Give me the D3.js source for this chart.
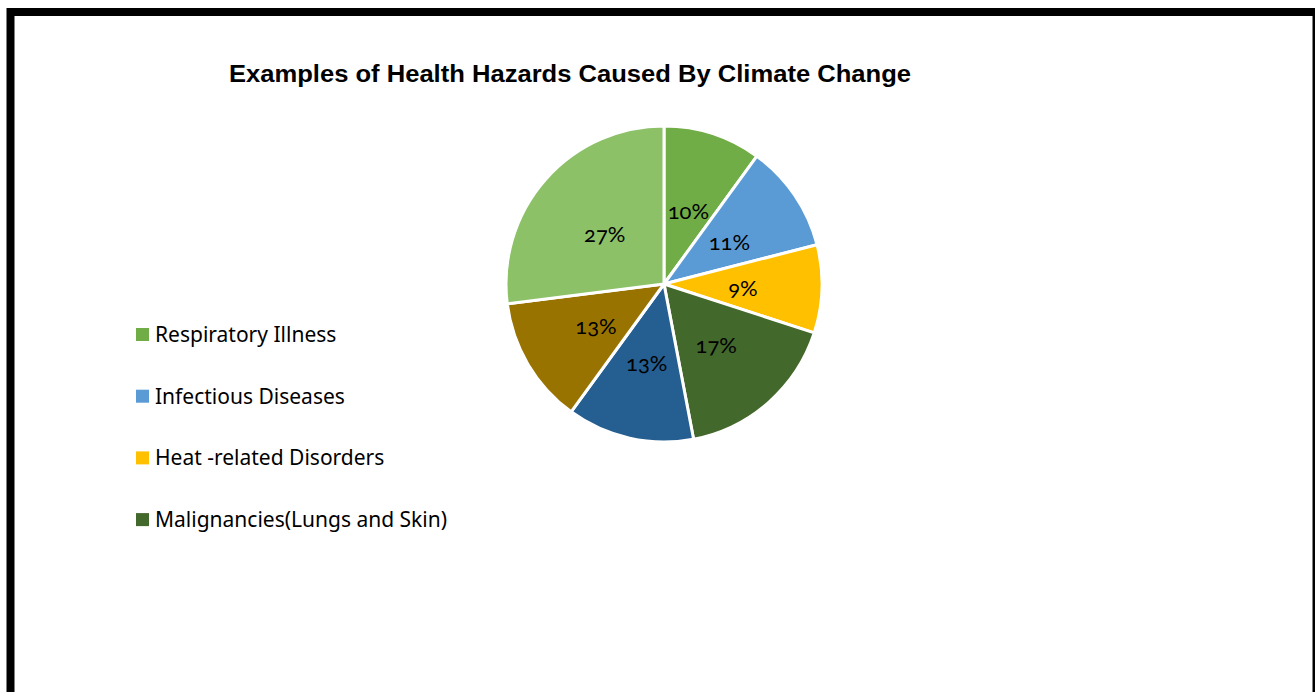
<!DOCTYPE html>
<html>
<head>
<meta charset="utf-8">
<script src="https://cdn.jsdelivr.net/npm/d3@7"></script>
<style>
  html, body { margin: 0; padding: 0; background: #fff; }
  svg { display: block; }
</style>
</head>
<body>
<div class="chart"></div>
<script>
// data
var labels = ["Respiratory Illness", "Infectious Diseases", "Heat -related Disorders",
              "Malignancies(Lungs and Skin)", "Series 5", "Series 6", "Series 7"];
var values = [10, 11, 9, 17, 13, 13, 27];
var colors = ["#70AD47", "#5B9BD5", "#FFC000", "#43682B", "#255E91", "#997300", "#8CC168"];
var legendCount = 4; // only the first four made it into the legend

var W = 1315, H = 692;
var svg = d3.select(".chart").append("svg")
    .attr("width", W)
    .attr("height", H);

// frame
svg.append("rect")
    .attr("x", 10.5).attr("y", 12)
    .attr("width", 1306).attr("height", 700)
    .attr("fill", "none")
    .attr("stroke", "#000")
    .attr("stroke-width", 8);

svg.append("text")
    .attr("x", 570)
    .attr("y", 82)
    .attr("text-anchor", "middle")
    .attr("font-family", "Liberation Sans, Arial, sans-serif")
    .attr("font-weight", 700)
    .attr("font-size", 23)
    .attr("textLength", 682)
    .attr("lengthAdjust", "spacingAndGlyphs")
    .text("Examples of Health Hazards Caused By Climate Change");

var cx = 664, cy = 284, r = 158;
var pie = d3.pie().sort(null).value(function(d) { return d; });
var arc = d3.arc().innerRadius(0).outerRadius(r);
var arcs = pie(values);

var g = svg.append("g").attr("transform", "translate(" + cx + "," + cy + ")");
g.selectAll("path.slice")
    .data(arcs)
  .enter().append("path")
    .attr("class", "slice")
    .attr("d", arc)
    .attr("fill", function(d, i) { return colors[i]; })
    .attr("stroke", "#fff")
    .attr("stroke-width", 3)
    .attr("stroke-linejoin", "round");

g.selectAll("text.lbl")
    .data(arcs)
  .enter().append("text")
    .attr("class", "lbl")
    .attr("transform", function(d) { return "translate(" + arc.centroid(d) + ")"; })
    .attr("text-anchor", "middle")
    .attr("dy", "0.45em")
    .attr("font-family", "Lato, Open Sans, sans-serif")
    .attr("font-size", 22)
    .style("font-variant-numeric", "oldstyle-nums")
    .attr("fill", "#000")
    .text(function(d) { return d.value + "%"; });

// legend
var leg = svg.append("g").attr("transform", "translate(136,328)");
var item = leg.selectAll("g")
    .data(labels.slice(0, legendCount))
  .enter().append("g")
    .attr("transform", function(d, i) { return "translate(0," + (i * 61.7) + ")"; });
item.append("rect")
    .attr("width", 13).attr("height", 13)
    .attr("fill", function(d, i) { return colors[i]; });
item.append("text")
    .attr("x", 19)
    .attr("y", 6.5)
    .attr("dy", "0.36em")
    .attr("font-family", "Noto Sans, Open Sans, sans-serif")
    .attr("font-size", 21)
    .attr("fill", "#000")
    .text(function(d) { return d; });
</script>
</body>
</html>
